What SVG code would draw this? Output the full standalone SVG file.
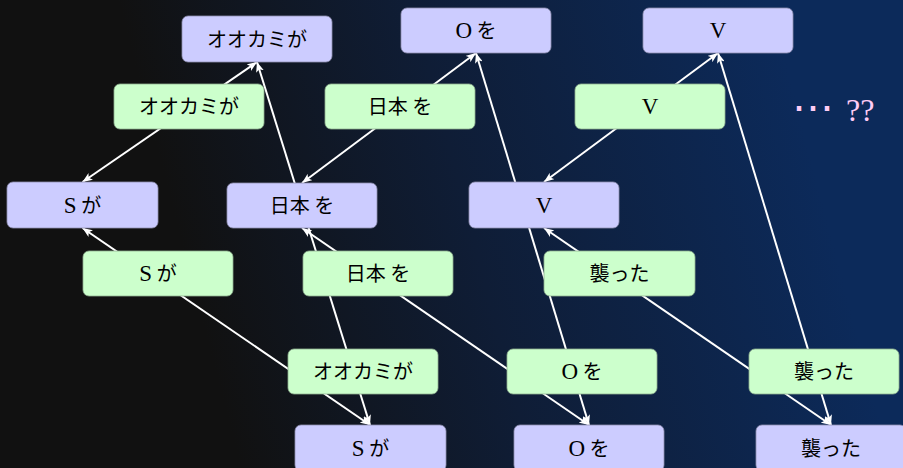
<svg xmlns="http://www.w3.org/2000/svg" width="903" height="468" viewBox="0 0 903 468">
<defs>
<linearGradient id="bg" gradientUnits="userSpaceOnUse" x1="110" y1="-30" x2="720" y2="-190">
<stop offset="0" stop-color="#111111"/>
<stop offset="0.45" stop-color="#0f1d36"/>
<stop offset="1" stop-color="#0c2a5a"/>
</linearGradient>
<marker id="ah" viewBox="0 0 10 8" refX="10" refY="4" markerWidth="10" markerHeight="8" markerUnits="userSpaceOnUse" orient="auto-start-reverse">
<path d="M0,0 L10,4 L0,8 L2.5,4 z" fill="#ffffff"/>
</marker>
<style>
.w{fill:#ccccff;stroke:#8f8fb0;stroke-width:0.8}
.g{fill:#ccffcc;stroke:#8fb08f;stroke-width:0.8}
.t{font-family:"Noto Sans CJK JP","Noto Sans",sans-serif;font-size:20px;fill:#000;text-anchor:middle}
.l{font-family:"Liberation Serif","Times New Roman",serif;font-size:23px}
.e{stroke:#ffffff;stroke-width:2;fill:none;marker-start:url(#ah);marker-end:url(#ah)}
.q{font-family:"Liberation Serif","DejaVu Serif",serif;font-size:32px;fill:#ffccf5}
</style>
</defs>
<rect x="0" y="0" width="903" height="468" fill="url(#bg)"/>
<g id="connectors">
<line class="e" x1="257" y1="62" x2="82.5" y2="182"/>
<line class="e" x1="257" y1="62" x2="370" y2="425"/>
<line class="e" x1="82.5" y1="228" x2="370" y2="425"/>
<line class="e" x1="476" y1="53" x2="302" y2="183"/>
<line class="e" x1="476" y1="53" x2="589" y2="425"/>
<line class="e" x1="302" y1="228" x2="589" y2="425"/>
<line class="e" x1="718" y1="53" x2="544" y2="182"/>
<line class="e" x1="718" y1="53" x2="831" y2="425"/>
<line class="e" x1="544" y1="228" x2="831" y2="425"/>
</g>
<g id="A1"><rect class="w" x="182" y="16" width="150" height="46" rx="6"/><text class="t" x="257" y="47">オオカミが</text></g>
<g id="A2"><rect class="w" x="401" y="8" width="150" height="45" rx="6"/><text class="t" x="476" y="38"><tspan class="l">O</tspan> を</text></g>
<g id="A3"><rect class="w" x="643" y="8" width="150" height="45" rx="6"/><text class="t" x="718" y="38"><tspan class="l">V</tspan></text></g>
<g id="B1"><rect class="g" x="114" y="84" width="150" height="45" rx="6"/><text class="t" x="189" y="114">オオカミが</text></g>
<g id="B2"><rect class="g" x="325" y="84" width="150" height="45" rx="6"/><text class="t" x="400" y="114">日本 を</text></g>
<g id="B3"><rect class="g" x="575" y="84" width="150" height="45" rx="6"/><text class="t" x="650" y="114"><tspan class="l">V</tspan></text></g>
<g id="C1"><rect class="w" x="7" y="182" width="151" height="46" rx="6"/><text class="t" x="82.5" y="213"><tspan class="l">S</tspan> が</text></g>
<g id="C2"><rect class="w" x="227" y="183" width="150" height="45" rx="6"/><text class="t" x="302" y="213">日本 を</text></g>
<g id="C3"><rect class="w" x="469" y="182" width="150" height="46" rx="6"/><text class="t" x="544" y="213"><tspan class="l">V</tspan></text></g>
<g id="D1"><rect class="g" x="83" y="251" width="150" height="45" rx="6"/><text class="t" x="158" y="281"><tspan class="l">S</tspan> が</text></g>
<g id="D2"><rect class="g" x="303" y="251" width="150" height="45" rx="6"/><text class="t" x="378" y="281">日本 を</text></g>
<g id="D3"><rect class="g" x="544" y="251" width="151" height="45" rx="6"/><text class="t" x="619.5" y="281">襲った</text></g>
<g id="E1"><rect class="g" x="288" y="349" width="150" height="45" rx="6"/><text class="t" x="363" y="379">オオカミが</text></g>
<g id="E2"><rect class="g" x="507" y="349" width="150" height="45" rx="6"/><text class="t" x="582" y="379"><tspan class="l">O</tspan> を</text></g>
<g id="E3"><rect class="g" x="749" y="349" width="150" height="45" rx="6"/><text class="t" x="824" y="379">襲った</text></g>
<g id="F1"><rect class="w" x="295" y="425" width="151" height="46" rx="6"/><text class="t" x="370.5" y="456"><tspan class="l">S</tspan> が</text></g>
<g id="F2"><rect class="w" x="514" y="425" width="150" height="46" rx="6"/><text class="t" x="589" y="456"><tspan class="l">O</tspan> を</text></g>
<g id="F3"><rect class="w" x="756" y="425" width="150" height="46" rx="6"/><text class="t" x="831" y="456">襲った</text></g>
<text class="q" x="792" y="121"><tspan font-family="DejaVu Serif" font-size="42">⋯</tspan><tspan x="846">??</tspan></text>
</svg>
